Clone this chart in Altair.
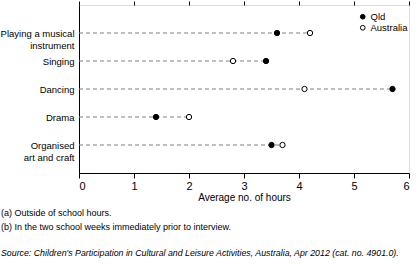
import altair as alt
import pandas as pd

categories = ["Playing a musical instrument", "Singing", "Dancing", "Drama", "Organised art and craft"]
qld = [3.6, 3.4, 5.7, 1.4, 3.5]
australia = [4.2, 2.8, 4.1, 2.0, 3.7]
series = ["Qld", "Australia"]
x_ticks = [0, 1, 2, 3, 4, 5, 6]

FONT = "Liberation Sans"

wide = pd.DataFrame({"Activity": categories, "Qld": qld, "Australia": australia})
wide["maxv"] = wide[["Qld", "Australia"]].max(axis=1)
wide["zero"] = 0.0
long = wide.melt(id_vars=["Activity"], value_vars=series, var_name="Series", value_name="Hours")

label_expr = ("datum.label == 'Playing a musical instrument' ? ['Playing a musical', 'instrument'] : "
              "datum.label == 'Organised art and craft' ? ['Organised', 'art and craft'] : datum.label")

y_enc = alt.Y("Activity:N", sort=categories,
              scale=alt.Scale(type="point", padding=1),
              axis=alt.Axis(title=None, ticks=False, domain=True, domainColor="black",
                            labelExpr=label_expr, labelFontSize=9.5, labelFont=FONT,
                            labelColor="black", labelPadding=5, labelLineHeight=12))

x_scale = alt.Scale(domain=[0, 6], nice=False)

rules = alt.Chart(wide).mark_rule(color="#808080", strokeDash=[4, 3], strokeWidth=1).encode(
    x=alt.X("zero:Q", scale=x_scale,
            axis=alt.Axis(title="Average no. of hours", values=x_ticks, grid=False,
                          tickSize=5, tickColor="black", domainColor="black",
                          labelFontSize=11, labelFont=FONT, labelColor="black",
                          titleFont=FONT, titleFontSize=10, titleFontWeight="normal",
                          titleColor="black", titlePadding=1, labelPadding=2)),
    x2="maxv:Q",
    y=y_enc,
)

top_axis = alt.Chart(wide).mark_rule(opacity=0).encode(
    x=alt.X("zero:Q", scale=x_scale,
            axis=alt.Axis(orient="top", title=None, labels=False, values=x_ticks,
                          grid=False, tickSize=4, tickColor="black", domain=False)),
    y=y_enc,
)

points = alt.Chart(long).mark_point(filled=False, size=28, stroke="black", strokeWidth=1, opacity=1).encode(
    x=alt.X("Hours:Q", scale=x_scale, axis=None),
    y=y_enc,
    fill=alt.Fill("Series:N", scale=alt.Scale(domain=series, range=["black", "white"]),
                  legend=alt.Legend(title=None, orient="none", legendX=279, legendY=7,
                                    labelFont=FONT, labelFontSize=9.5, labelColor="black",
                                    symbolStrokeColor="black", symbolSize=22, symbolStrokeWidth=1,
                                    rowPadding=0, labelOffset=3, symbolType="circle")),
)

def note(text, y, size, italic=False):
    return alt.Chart(pd.DataFrame({"t": [text]})).mark_text(
        align="left", baseline="middle", font=FONT, fontSize=size, color="black",
        fontStyle="italic" if italic else "normal"
    ).encode(text="t:N", x=alt.value(-78), y=alt.value(y))

notes = [
    note("(a) Outside of school hours.", 208, 9),
    note("(b) In the two school weeks immediately prior to interview.", 222, 9),
    note("Source: Children's Participation in Cultural and Leisure Activities, Australia, Apr 2012 (cat. no. 4901.0).", 248, 8.8, italic=True),
]

chart = alt.layer(rules, top_axis, points, *notes).resolve_axis(x="independent").properties(
    width=330, height=168,
    autosize=alt.AutoSizeParams(type="none"),
    padding={"left": 79, "top": 5, "right": 7, "bottom": 92},
).configure_view(stroke="black", strokeWidth=1).configure(background="white")

chart.save("out.html", embed_options={"renderer": "svg", "actions": False})
